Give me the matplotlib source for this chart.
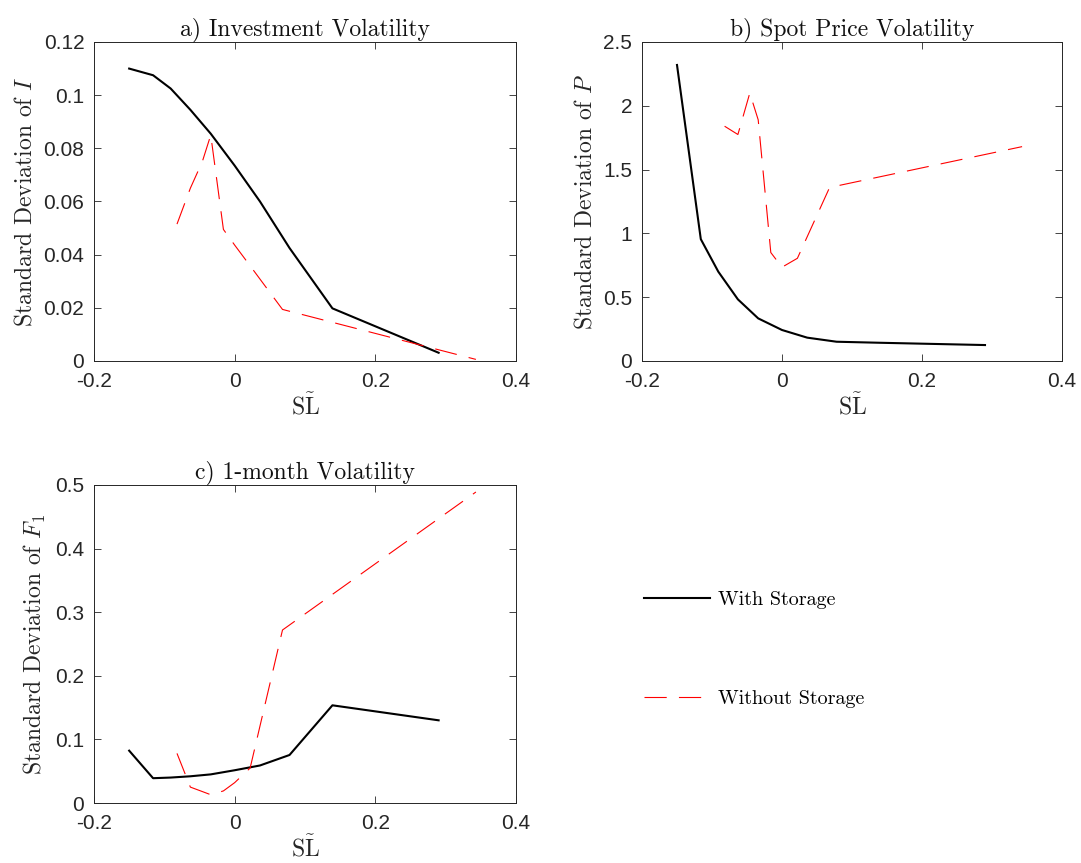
import matplotlib
matplotlib.use('Agg')
import matplotlib.pyplot as plt
from matplotlib.lines import Line2D

plt.rcParams['mathtext.fontset'] = 'cm'
plt.rcParams['font.family'] = ['Liberation Sans', 'DejaVu Sans']
plt.rcParams['axes.unicode_minus'] = False

# storage-level grid (with / without storage)
sl_with = [-0.150, -0.116, -0.091, -0.063, -0.034, 0.0, 0.036, 0.078, 0.139, 0.290]
sl_without = [-0.082, -0.063, -0.046, -0.034, -0.016, 0.0, 0.022, 0.068, 0.343]

# a) investment
inv_with = [0.110, 0.1075, 0.1025, 0.0945, 0.0855, 0.0735, 0.0600, 0.0425, 0.0198, 0.0031]
inv_without = [0.0515, 0.065, 0.075, 0.085, 0.0495, 0.0436, 0.0358, 0.0194, 0.0006]

# b) spot price
price_with = [2.32, 0.955, 0.70, 0.483, 0.334, 0.243, 0.183, 0.151, 0.143, 0.125]
price_without = [1.84, 1.775, 2.10, 1.89, 0.85, 0.735, 0.805, 1.36, 1.68]

# c) 1-month futures
fut_with = [0.0823, 0.0390, 0.0400, 0.0420, 0.0450, 0.0515, 0.0590, 0.0755, 0.1536, 0.130]
fut_without = [0.078, 0.025, 0.018, 0.013, 0.019, 0.032, 0.055, 0.272, 0.489]

panels = [
    ('a) Investment Volatility', r'Standard Deviation of $I$', inv_with, inv_without,
     (0, 0.12), [0, 0.02, 0.04, 0.06, 0.08, 0.1, 0.12], ['0', '0.02', '0.04', '0.06', '0.08', '0.1', '0.12']),
    ('b) Spot Price Volatility', r'Standard Deviation of $P$', price_with, price_without,
     (0, 2.5), [0, 0.5, 1, 1.5, 2, 2.5], ['0', '0.5', '1', '1.5', '2', '2.5']),
    ('c) 1-month Volatility', r'Standard Deviation of $F_1$', fut_with, fut_without,
     (0, 0.5), [0, 0.1, 0.2, 0.3, 0.4, 0.5], ['0', '0.1', '0.2', '0.3', '0.4', '0.5']),
]

W, H = 1081, 863
boxes = [(94, 42, 422, 319), (642, 42, 420, 319), (94, 485, 422, 318)]

fig = plt.figure(figsize=(W / 100, H / 100), dpi=100)
dark = '#262626'
serif = 'cmr10'

for (title, ylab, yw, yo, ylim, yt, ytl), (l, t, w, h) in zip(panels, boxes):
    ax = fig.add_axes([l / W, 1 - (t + h) / H, w / W, h / H])
    ax.plot(sl_with, yw, color='black', lw=1.5)
    ax.plot(sl_without, yo, color='red', lw=0.8, dashes=(20, 11))
    ax.set_xlim(-0.2, 0.4)
    ax.set_ylim(*ylim)
    ax.set_xticks([-0.2, 0, 0.2, 0.4])
    ax.set_xticklabels(['-0.2', '0', '0.2', '0.4'])
    ax.set_yticks(yt)
    ax.set_yticklabels(ytl)
    ax.tick_params(direction='in', top=True, right=True, labelsize=15,
                   colors=dark, length=5, width=0.6)
    ax.tick_params(axis='x', pad=8)
    ax.tick_params(axis='y', pad=7)
    for s in ax.spines.values():
        s.set_color(dark)
        s.set_linewidth(0.7)
    ax.set_title(title, fontsize=17, family=serif, color='#111111', pad=5)
    ax.set_ylabel(ylab, fontsize=17, family=serif, color=dark, labelpad=5)
    ax.set_xlabel(r'$\tilde{\mathrm{SL}}$', fontsize=17, color=dark, labelpad=1)

handles = [Line2D([], [], color='black', lw=1.5),
           Line2D([], [], color='red', lw=0.8, dashes=(20, 11))]
fig.legend(handles, ['With Storage', 'Without Storage'], loc='center left',
           bbox_to_anchor=(644 / W, 1 - 649.5 / H), frameon=False,
           prop={'family': serif, 'size': 14.5}, handlelength=3.3,
           handletextpad=0.35, labelspacing=4.0, borderpad=0, borderaxespad=0)

fig.savefig('out.png', dpi=100)
